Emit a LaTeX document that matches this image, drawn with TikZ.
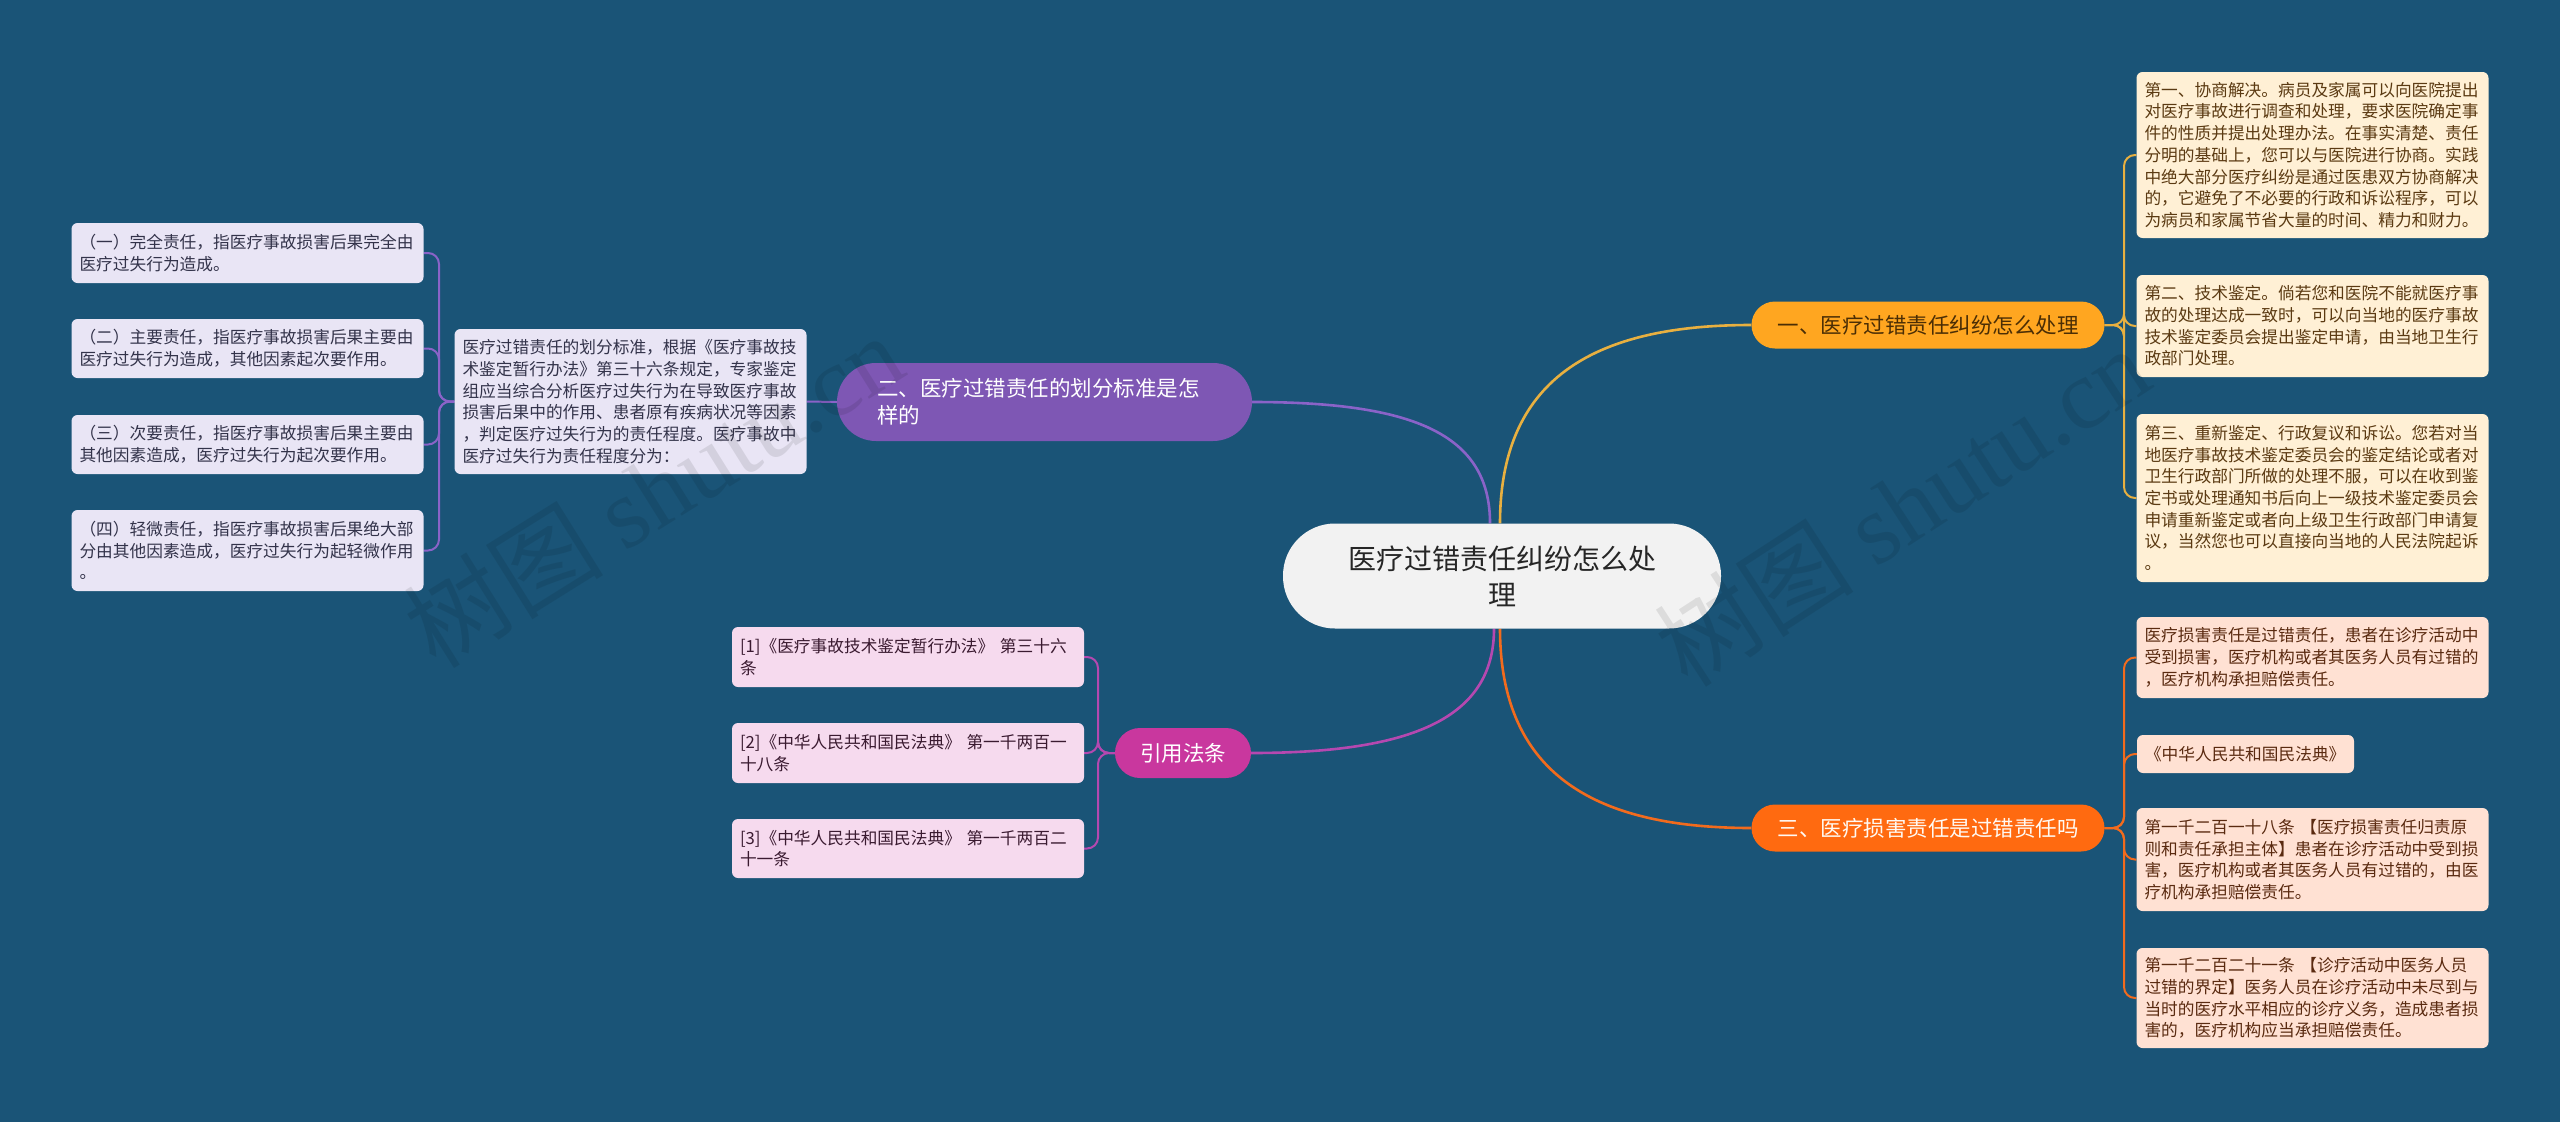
\documentclass[tikz,border=0pt]{standalone}
\usepackage{fontspec}
\setmainfont{Noto Sans CJK SC}
\newfontfamily\wmserif{Liberation Serif}
\usetikzlibrary{backgrounds,calc}
\definecolor{bg}{HTML}{1A5477}
\definecolor{rootfill}{HTML}{F2F2F2}
\definecolor{ylwfill}{HTML}{FFA620}
\definecolor{ylwtext}{HTML}{4B2E05}
\definecolor{ylwleaf}{HTML}{FFF0D5}
\definecolor{ylwleaftext}{HTML}{5B3A12}
\definecolor{ylwline}{HTML}{E8B040}
\definecolor{orgfill}{HTML}{FF6A10}
\definecolor{orgleaf}{HTML}{FFE1D3}
\definecolor{orgleaftext}{HTML}{5A2A10}
\definecolor{orgline}{HTML}{F26B1D}
\definecolor{purfill}{HTML}{7E57B4}
\definecolor{purleaf}{HTML}{E9E5F5}
\definecolor{purleaftext}{HTML}{33334A}
\definecolor{purline}{HTML}{8A63C8}
\definecolor{magfill}{HTML}{C9379E}
\definecolor{magleaf}{HTML}{F6DAEE}
\definecolor{magleaftext}{HTML}{3A1A30}
\definecolor{magline}{HTML}{B548B0}
\begin{document}
\begin{tikzpicture}[x=1pt,y=-1pt,
  leafbox/.style={rounded corners=6pt, inner xsep=8pt, inner ysep=4pt, align=left,
    text width=336pt, font=\fontsize{16.7}{21.7}\selectfont},
  pill/.style={inner sep=0pt, align=center, font=\fontsize{21.5}{27}\selectfont},
  conn/.style={line width=2.6pt},
  leafconn/.style={line width=2pt, rounded corners=11pt}
]
\begin{scope}[on background layer]
\fill[bg] (0,0) rectangle (2560,1122);
\end{scope}
\useasboundingbox (0,0) rectangle (2560,1122);

% root
\node[fill=rootfill, rounded corners=52pt, minimum width=438pt, minimum height=105pt,
  inner sep=0pt, align=center, text=black!85, font=\fontsize{28}{36}\selectfont]
  (root) at (1502,576) {医疗过错责任纠纷怎么处\\理};

% branches
\node[pill, fill=ylwfill, text=ylwtext, rounded corners=23.5pt, minimum width=353pt, minimum height=47pt]
  (b1) at (1928,325) {一、医疗过错责任纠纷怎么处理};
\node[pill, fill=orgfill, text=white!95!orange, rounded corners=23.5pt, minimum width=353pt, minimum height=47pt]
  (b3) at (1928,828) {三、医疗损害责任是过错责任吗};
\node[pill, fill=purfill, text=white, rounded corners=39pt, minimum width=415pt, minimum height=78pt,
  align=left, text width=335pt]
  (b2) at (1044.5,402) {二、医疗过错责任的划分标准是怎\\样的};
\node[pill, fill=magfill, text=white, rounded corners=25pt, minimum width=136pt, minimum height=50pt]
  (cite) at (1183,753) {引用法条};

% yellow leaves
\node[leafbox, fill=ylwleaf, text=ylwleaftext, minimum height=166pt] (y1) at (2312.5,155)
 {第一、协商解决。病员及家属可以向医院提出\\对医疗事故进行调查和处理，要求医院确定事\\件的性质并提出处理办法。在事实清楚、责任\\分明的基础上，您可以与医院进行协商。实践\\中绝大部分医疗纠纷是通过医患双方协商解决\\的，它避免了不必要的行政和诉讼程序，可以\\为病员和家属节省大量的时间、精力和财力。};
\node[leafbox, fill=ylwleaf, text=ylwleaftext, minimum height=102pt] (y2) at (2312.5,326)
 {第二、技术鉴定。倘若您和医院不能就医疗事\\故的处理达成一致时，可以向当地的医疗事故\\技术鉴定委员会提出鉴定申请，由当地卫生行\\政部门处理。};
\node[leafbox, fill=ylwleaf, text=ylwleaftext, minimum height=168pt] (y3) at (2312.5,498)
 {第三、重新鉴定、行政复议和诉讼。您若对当\\地医疗事故技术鉴定委员会的鉴定结论或者对\\卫生行政部门所做的处理不服，可以在收到鉴\\定书或处理通知书后向上一级技术鉴定委员会\\申请重新鉴定或者向上级卫生行政部门申请复\\议，当然您也可以直接向当地的人民法院起诉\\。};

% orange leaves
\node[leafbox, fill=orgleaf, text=orgleaftext, minimum height=81pt] (o1) at (2312.5,657.5)
 {医疗损害责任是过错责任，患者在诊疗活动中\\受到损害，医疗机构或者其医务人员有过错的\\，医疗机构承担赔偿责任。};
\node[leafbox, fill=orgleaf, text=orgleaftext, minimum height=38pt, text width=201pt] (o2) at (2245.5,754)
 {《中华人民共和国民法典》};
\node[leafbox, fill=orgleaf, text=orgleaftext, minimum height=103pt] (o3) at (2312.5,859.5)
 {第一千二百一十八条~【医疗损害责任归责原\\则和责任承担主体】患者在诊疗活动中受到损\\害，医疗机构或者其医务人员有过错的，由医\\疗机构承担赔偿责任。};
\node[leafbox, fill=orgleaf, text=orgleaftext, minimum height=100pt] (o4) at (2312.5,998)
 {第一千二百二十一条~【诊疗活动中医务人员\\过错的界定】医务人员在诊疗活动中未尽到与\\当时的医疗水平相应的诊疗义务，造成患者损\\害的，医疗机构应当承担赔偿责任。};

% purple description and leaves
\node[leafbox, fill=purleaf, text=purleaftext, minimum height=145pt] (desc) at (630.5,401.5)
 {医疗过错责任的划分标准，根据《医疗事故技\\术鉴定暂行办法》第三十六条规定，专家鉴定\\组应当综合分析医疗过失行为在导致医疗事故\\损害后果中的作用、患者原有疾病状况等因素\\，判定医疗过失行为的责任程度。医疗事故中\\医疗过失行为责任程度分为：};
\node[leafbox, fill=purleaf, text=purleaftext, minimum height=60pt] (l1) at (247.5,253)
 {（一）完全责任，指医疗事故损害后果完全由\\医疗过失行为造成。};
\node[leafbox, fill=purleaf, text=purleaftext, minimum height=59pt] (l2) at (247.5,348.5)
 {（二）主要责任，指医疗事故损害后果主要由\\医疗过失行为造成，其他因素起次要作用。};
\node[leafbox, fill=purleaf, text=purleaftext, minimum height=59pt] (l3) at (247.5,444.5)
 {（三）次要责任，指医疗事故损害后果主要由\\其他因素造成，医疗过失行为起次要作用。};
\node[leafbox, fill=purleaf, text=purleaftext, minimum height=81pt] (l4) at (247.5,550.5)
 {（四）轻微责任，指医疗事故损害后果绝大部\\分由其他因素造成，医疗过失行为起轻微作用\\。};

% cite leaves
\node[leafbox, fill=magleaf, text=magleaftext, minimum height=60pt] (c1) at (908,657)
 {[1]《医疗事故技术鉴定暂行办法》~第三十六\\条};
\node[leafbox, fill=magleaf, text=magleaftext, minimum height=60pt] (c2) at (908,753)
 {[2]《中华人民共和国民法典》~第一千两百一\\十八条};
\node[leafbox, fill=magleaf, text=magleaftext, minimum height=59pt] (c3) at (908,848.5)
 {[3]《中华人民共和国民法典》~第一千两百二\\十一条};

% connectors
\begin{scope}[on background layer]
\draw[conn, ylwline] ([xshift=-2pt]root.north) .. controls +(0,-150) and +(-150,0) .. (b1.west);
\draw[conn, purline] ([xshift=-12pt]root.north) .. controls +(0,-90) and +(160,0) .. (b2.east);
\draw[conn, orgline] ([xshift=-2pt]root.south) .. controls +(0,150) and +(-150,0) .. (b3.west);
\draw[conn, magline] ([xshift=-8pt]root.south) .. controls +(0,90) and +(160,0) .. (cite.east);

\foreach \n in {y1,y2,y3}
  \draw[leafconn, ylwline] (b1.east) -- (2124,325) |- (\n.west);
\foreach \n in {o1,o2,o3,o4}
  \draw[leafconn, orgline] (b3.east) -- (2124,828) |- (\n.west);
\draw[leafconn, purline] (b2.west) -- (desc.east);
\foreach \n in {l1,l2,l3,l4}
  \draw[leafconn, purline] (desc.west) -- (439,401.5) |- (\n.east);
\foreach \n in {c1,c2,c3}
  \draw[leafconn, magline] (cite.west) -- (1098,753) |- (\n.east);
\end{scope}

% watermark
\node[rotate=32, opacity=0.09, text=black, font=\fontsize{100}{100}\selectfont] (wm1) at (653,490)
  {树图 {\wmserif shutu.cn}};
\node[rotate=33, opacity=0.09, text=black, font=\fontsize{100}{100}\selectfont] (wm2) at (1902,506)
  {树图 {\wmserif shutu.cn}};
\end{tikzpicture}
\end{document}
